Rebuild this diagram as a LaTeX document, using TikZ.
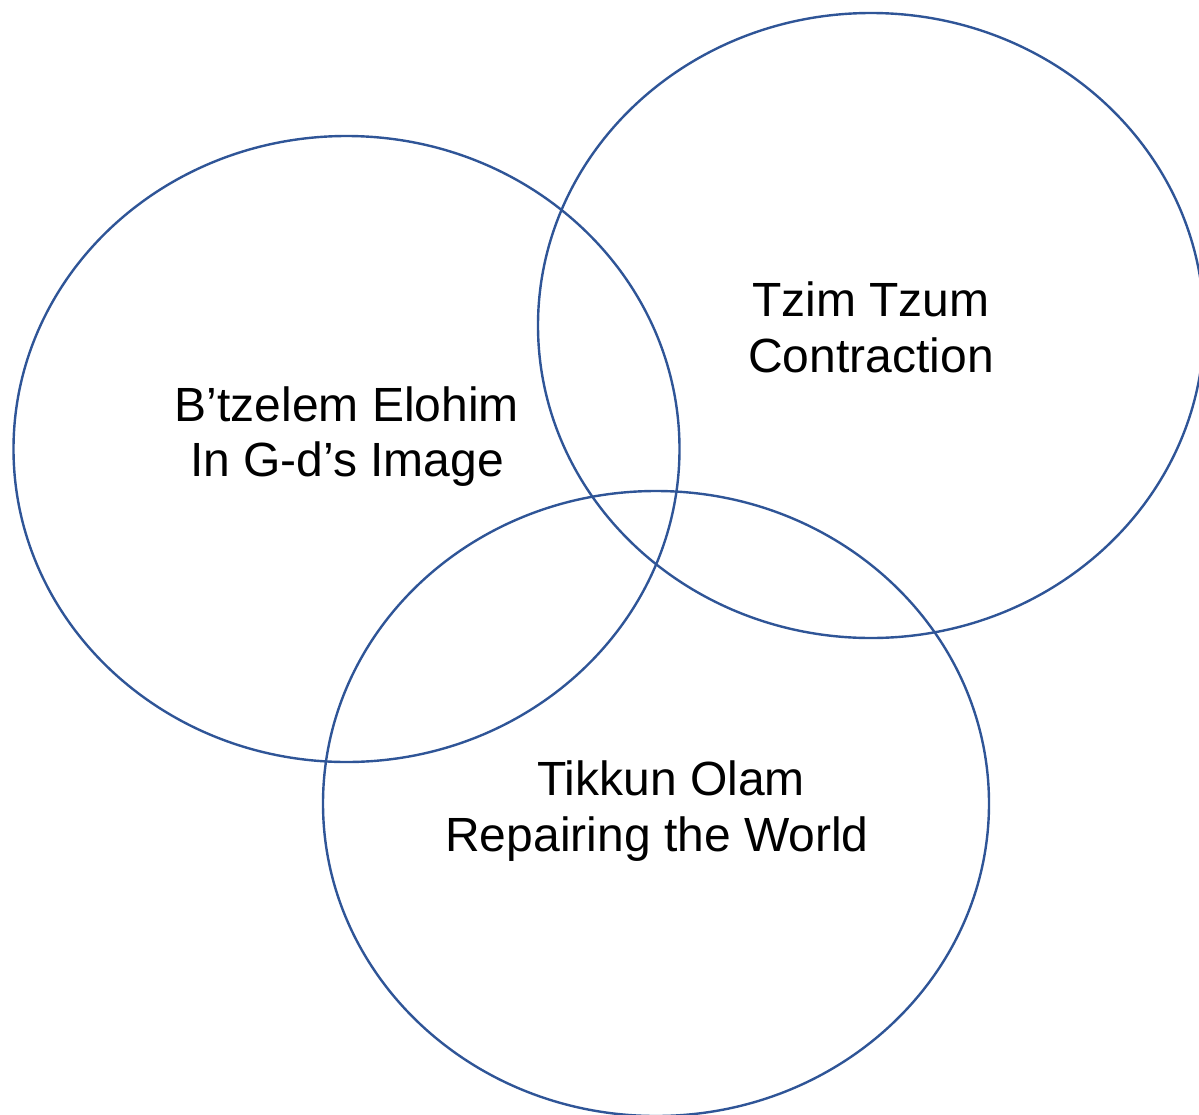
\documentclass[tikz,border=0pt]{standalone}
\usepackage{fontspec}
\setmainfont{Liberation Sans}
\definecolor{vennblue}{HTML}{2F5597}
\begin{document}
\begin{tikzpicture}[x=1pt,y=-1pt,
  ring/.style={draw=vennblue,line width=2.4pt},
  lbl/.style={anchor=base,inner sep=0pt,font=\fontsize{48}{56}\selectfont}]
\useasboundingbox (0,0) rectangle (1199,1114);
\begin{scope}
\clip (0,0) rectangle (1199,1114);
\draw[ring] (346.5,449) ellipse [x radius=333, y radius=313];
\draw[ring] (871,325.5) ellipse [x radius=333, y radius=312.5];
\draw[ring] (656,803.5) ellipse [x radius=333, y radius=312.5];
\end{scope}
\node[lbl] (a1) at (347,421) {B’tzelem Elohim};
\node[lbl] (a2) at (347,476) {In G-d’s Image};
\node[lbl] (b1) at (871,316) {Tzim Tzum};
\node[lbl] (b2) at (871,372) {Contraction};
\node[lbl] (c1) at (671,795) {Tikkun Olam};
\node[lbl] (c2) at (657,851) {Repairing the World};
\end{tikzpicture}
\end{document}
